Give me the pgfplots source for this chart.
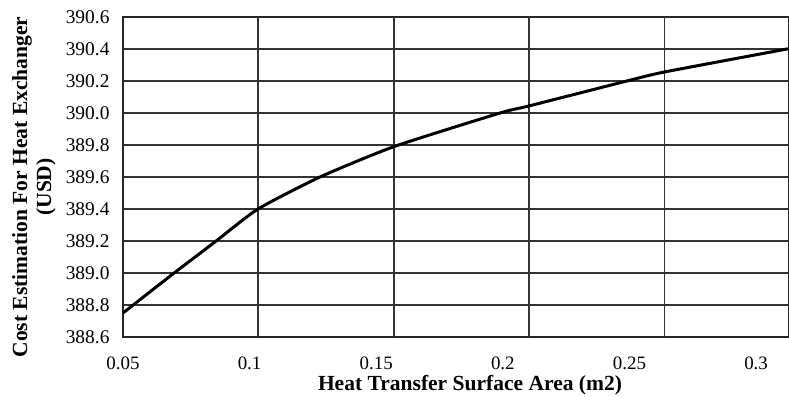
\documentclass[border=0pt]{standalone}
\usepackage{fontspec}
\setmainfont{Liberation Serif}
\usepackage{pgfplots}
\pgfplotsset{compat=1.18}
\begin{document}
\begin{tikzpicture}
\begin{axis}[
  scale only axis,
  width=666bp, height=320bp,
  xmin=0.05, xmax=0.313,
  ymin=388.6, ymax=390.6,
  ytick={388.6,388.8,...,390.61},
  xtick={0.05,0.1,0.15,0.2,0.25,0.3},
  xticklabels={0.05,0.1,0.15,0.2,0.25,0.3},
  extra x ticks={0.1033,0.157,0.2103,0.2637},
  extra x tick labels={},
  extra x tick style={grid=major, major grid style={black!80, line width=1.3bp}},
  ymajorgrids,
  major grid style={black!80, line width=1.3bp},
  major tick length=0pt,
  axis line style={black!85, line width=1.4bp},
  /pgf/number format/assume math mode=true,
  yticklabel style={/pgf/number format/fixed, /pgf/number format/fixed zerofill, /pgf/number format/precision=1, font=\fontsize{19.5}{22}\selectfont, xshift=-10bp},
  xticklabel style={font=\fontsize{19}{22}\selectfont, yshift=-16bp},
  xlabel={\textbf{Heat Transfer Surface Area (m2)}},
  ylabel={\textbf{Cost Estimation For Heat Exchanger}\\\textbf{(USD)}},
  xlabel style={font=\fontsize{21.6}{24}\selectfont, at={(axis description cs:0.521,0)}, anchor=center, yshift=-48bp},
  ylabel style={font=\fontsize{21.6}{24}\selectfont, align=center, at={(axis description cs:0,0.5)}, anchor=center, yshift=89bp, xshift=-10bp},
  clip=false,
]
\addplot[black, line width=3bp, smooth, tension=0.35] coordinates {
(0.05,388.75)
(0.0697,388.994)
(0.0863,389.194)
(0.1033,389.40)
(0.1278,389.60)
(0.157,389.79)
(0.1989,390.0)
(0.2103,390.044)
(0.249,390.2)
(0.2637,390.256)
(0.3122,390.40)
(0.313,390.405)
};
\coordinate (bl) at (rel axis cs:0,0);
\coordinate (tr) at (rel axis cs:1,1);
\end{axis}
\pgfresetboundingbox
\path ([shift={(-123bp,-60bp)}]bl) rectangle ([shift={(0bp,17bp)}]tr);
\end{tikzpicture}
\end{document}
